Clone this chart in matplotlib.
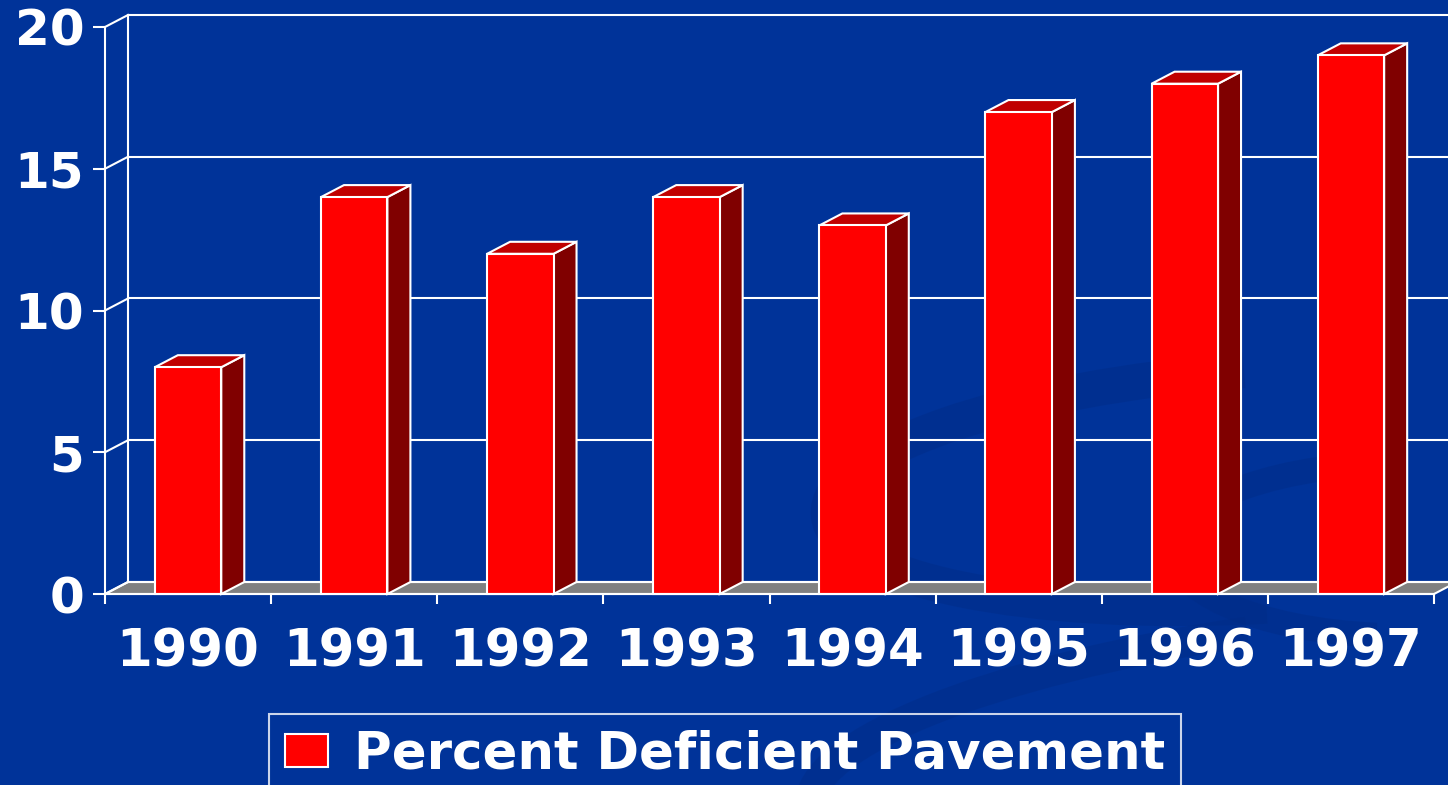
import matplotlib
matplotlib.use("Agg")
import matplotlib.pyplot as plt
from matplotlib.patches import Polygon, Rectangle, Patch, Arc
import numpy as np

years = ["1990", "1991", "1992", "1993", "1994", "1995", "1996", "1997"]
deficient = [8, 14, 12, 14, 13, 17, 18, 19]
y_ticks = [0, 5, 10, 15, 20]
series_name = "Percent Deficient Pavement"

BG = "#003399"
FRONT = "#ff0000"
SIDE = "#800000"
TOP = "#c00000"
FLOOR = "#808080"
LINE = "white"

plt.rcParams["font.family"] = ["DejaVu Sans"]
plt.rcParams["font.weight"] = "bold"

fig = plt.figure(figsize=(14.48, 7.85), dpi=100, facecolor=BG)

# faint swirl in the slide background
for (cx, cy, w, h, ang, lw) in [(0.88, 0.38, 0.62, 0.30, 8, 26), (0.97, 0.30, 0.32, 0.22, 0, 18),
                                (0.90, 0.05, 0.70, 0.30, 15, 22)]:
    fig.add_artist(Arc((cx, cy), w, h, angle=ang, theta1=90, theta2=260,
                       transform=fig.transFigure, color="#002c86", lw=lw, alpha=0.45, zorder=0))

ax = fig.add_axes([105 / 1448, 191 / 785, 1329 / 1448, 567 / 785])
ax.set_facecolor("none")
n = len(years)
ax.set_xlim(-0.5, n - 0.5)
ax.set_ylim(0, 20)

# depth of the box effect: 23 px right, 12 px up, in data units
dx = 23 / (ax.bbox.width / n)
dy = 12 / (ax.bbox.height / 20)
lw = 1.5
x0, x1 = -0.5, n - 0.5

# floor
ax.add_patch(Polygon([(x0, 0), (x1, 0), (x1 + dx, dy), (x0 + dx, dy)], closed=True,
                     facecolor=FLOOR, edgecolor=LINE, lw=lw, clip_on=False, zorder=1))

# back wall grid, left wall edges
for t in y_ticks:
    ax.plot([x0 + dx, x1 + dx], [t + dy, t + dy], color=LINE, lw=lw, clip_on=False, zorder=2)
    ax.plot([x0, x0 + dx], [t, t + dy], color=LINE, lw=lw, clip_on=False, zorder=2)
ax.plot([x0 + dx, x0 + dx], [dy, 20 + dy], color=LINE, lw=lw, clip_on=False, zorder=2)

# bars with side and top faces
w = 0.4
for i, v in enumerate(deficient):
    l, r = i - w / 2, i + w / 2
    ax.add_patch(Polygon([(r, 0), (r + dx, dy), (r + dx, v + dy), (r, v)], closed=True,
                         facecolor=SIDE, edgecolor=LINE, lw=lw, clip_on=False, zorder=3))
    ax.add_patch(Polygon([(l, v), (r, v), (r + dx, v + dy), (l + dx, v + dy)], closed=True,
                         facecolor=TOP, edgecolor=LINE, lw=lw, clip_on=False, zorder=3))
    ax.add_patch(Rectangle((l, 0), w, v, facecolor=FRONT, edgecolor=LINE, lw=lw,
                           clip_on=False, zorder=4))

for s in ["top", "right"]:
    ax.spines[s].set_visible(False)
for s in ["left", "bottom"]:
    ax.spines[s].set_color(LINE)
    ax.spines[s].set_linewidth(lw)
    ax.spines[s].set_zorder(5)

ax.set_yticks(y_ticks)
ax.tick_params(axis="y", colors=LINE, length=9, width=lw, pad=6, labelsize=36)

ax.set_xticks(np.arange(x0, x1 + 0.01, 1))
ax.set_xticklabels([])
ax.tick_params(axis="x", which="major", colors=LINE, length=7, width=lw)
ax.set_xticks(range(n), minor=True)
ax.set_xticklabels(years, minor=True)
ax.tick_params(axis="x", which="minor", colors=LINE, length=0, pad=24, labelsize=37)

leg = fig.legend(handles=[Patch(facecolor=FRONT, edgecolor=LINE, lw=lw)], labels=[series_name],
                 loc="upper center", bbox_to_anchor=(725 / 1448, 1 - 714 / 785),
                 frameon=True, fancybox=False, facecolor="none", edgecolor=LINE,
                 fontsize=37, handlelength=0.85, handleheight=0.6, handletextpad=0.5,
                 borderpad=0.3, borderaxespad=0, labelcolor=LINE)
leg.get_frame().set_linewidth(lw)

fig.savefig("out.png", dpi=100, facecolor=BG)
